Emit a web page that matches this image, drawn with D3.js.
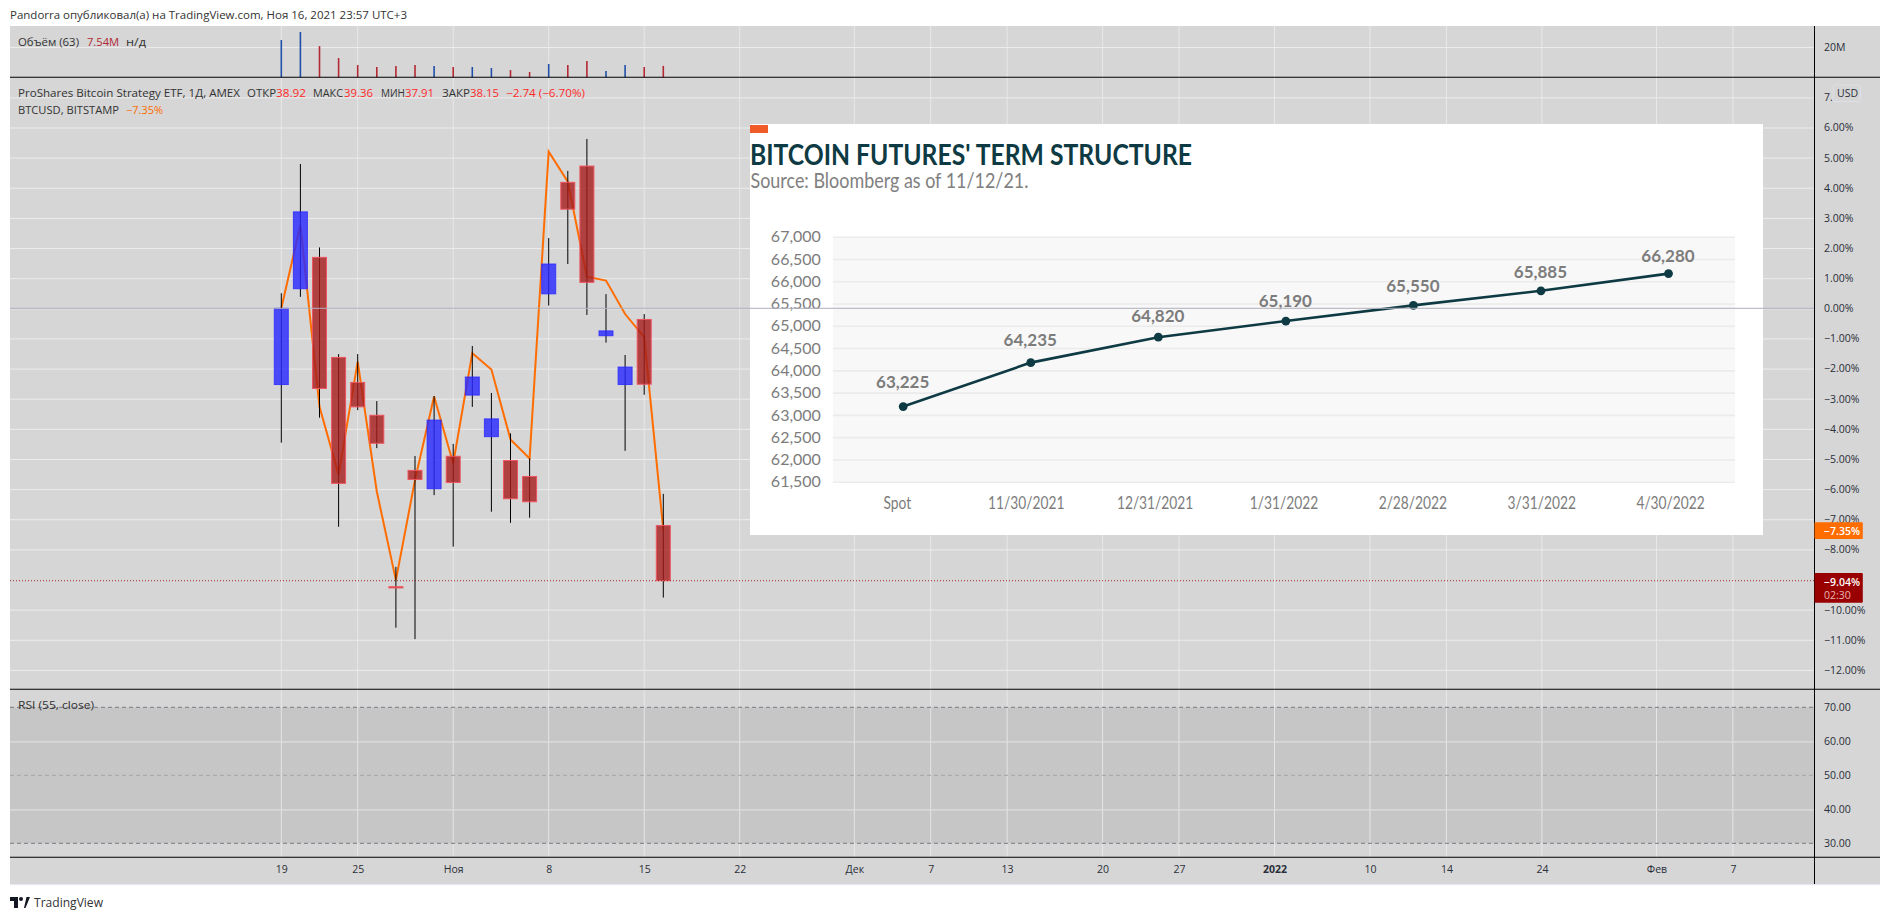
<!DOCTYPE html>
<html>
<head>
<meta charset="utf-8">
<script src="https://cdn.jsdelivr.net/npm/d3@7/dist/d3.min.js"></script>
<style>
html,body{margin:0;padding:0;background:#fff;overflow:hidden}
svg{display:block}
text{font-family:"Open Sans","Noto Sans",sans-serif}
.ui text,text.ui{font-family:"Open Sans","Noto Sans",sans-serif;font-size:10.5px;fill:#2a2e39}
.inset text,text.inset{font-family:Lato,"Open Sans",sans-serif}
</style>
</head>
<body>
<svg id="c" width="1890" height="920"></svg>
<script>
// ---------- data ----------
// daily candles, percent change from the comparison base (index = trading day from 19 Oct)
const opens  = [-2.53,0.65,1.69,-1.63,-2.46,-3.55,-9.24,-5.38,-5.99,-4.91,-2.88,-4.26,-5.05,-5.58,0.48,4.18,4.72,-0.91,-2.53,-0.37,-7.21];
const closes = [0.0,3.2,-2.66,-5.81,-3.27,-4.48,-9.28,-5.68,-3.71,-5.78,-2.28,-3.67,-6.32,-6.42,1.47,3.29,0.86,-0.75,-1.95,-2.52,-9.04];
const highs  = [0.5,4.79,2.02,-1.52,-1.52,-3.08,-8.58,-4.9,-2.91,-4.5,-1.25,-2.81,-4.15,-4.98,2.33,4.56,5.62,0.47,-1.55,-0.19,-6.16];
const lows   = [-4.46,0.38,-3.63,-7.25,-3.38,-4.64,-10.6,-10.98,-6.2,-7.91,-3.27,-6.75,-7.12,-6.95,0.09,1.47,-0.22,-1.14,-4.73,-2.87,-9.6];
const btcusd = [0.0,2.76,-3.27,-5.52,-1.77,-6.08,-9.02,-5.7,-2.93,-5.15,-1.49,-2.03,-4.35,-4.98,5.2,4.2,1.05,0.92,-0.19,-0.96,-7.35];
const volumes = [24.6,29.9,20.6,12.7,8.1,6.8,7.5,8.1,7.5,6.8,6.8,6.1,4.8,3.5,8.8,8.1,10.7,4.2,8.1,6.8,7.54];
const volumeUp = [1,1,0,0,0,0,0,0,1,0,1,1,0,0,1,0,0,1,1,0,0];

const timeTickIndex  = [0,4,9,14,19,24,30,34,38,43,47,52,57,61,66,72,76];
const timeTickLabels = ["19","25","Ноя","8","15","22","Дек","7","13","20","27","2022","10","14","24","Фев","7"];
const priceTicks = [7,6,5,4,3,2,1,0,-1,-2,-3,-4,-5,-6,-7,-8,-9,-10,-11,-12];
const volumeTicks = [20];
const rsiTicks = [70,60,50,40,30];
const rsiDashed = [70,50,30];

const termCategories = ["Spot","11/30/2021","12/31/2021","1/31/2022","2/28/2022","3/31/2022","4/30/2022"];
const termValues = [63225,64235,64820,65190,65550,65885,66280];
const termTicks = [67000,66500,66000,65500,65000,64500,64000,63500,63000,62500,62000,61500];

const legendOHLC = [["ОТКР","38.92"],["МАКС","39.36"],["МИН","37.91"],["ЗАКР","38.15"]];

// ---------- scales ----------
const svg = d3.select("#c");
const x = d3.scaleLinear().domain([0,20]).range([281.3,663.3]);
const yP = d3.scaleLinear().domain([0,-12]).range([308.3,669.9]);
const yV = d3.scaleLinear().domain([0,20]).range([77.3,47]);
const yR = d3.scaleLinear().domain([70,30]).range([707.3,843.3]);
const L=10,R=1880,T=26,B=884,AX=1814.5;
const GRID="#ececec";

// background
svg.append("rect").attr("x",L).attr("y",T).attr("width",R-L).attr("height",B-T).attr("fill","#d6d6d6");
svg.append("rect").attr("x",L).attr("y",B).attr("width",R-L).attr("height",1.2).attr("fill","#e6e8f0");
svg.append("rect").attr("x",L).attr("y",yR(70)).attr("width",AX-L).attr("height",yR(30)-yR(70)).attr("fill","rgba(0,0,0,0.075)");

// vertical grid + time labels
const gx = svg.append("g").attr("transform",`translate(0,${857.3})`)
  .call(d3.axisBottom(x).tickValues(timeTickIndex).tickFormat((d,i)=>timeTickLabels[i]).tickSize(0).tickPadding(7));
gx.select(".domain").remove();
gx.selectAll("text").attr("class","ui").attr("font-weight",d=>d===52?"700":"400").attr("dy","0.8em").style("font-size","10.5px");
const vg = svg.append("g");
vg.selectAll("line").data(timeTickIndex).join("line")
  .attr("x1",d=>x(d)).attr("x2",d=>x(d)).attr("y1",T).attr("y2",857.3)
  .attr("stroke",GRID).attr("stroke-width",1).attr("opacity",.85);

// price pane grid and axis
function hAxis(scale,ticks,fmt){
  const g = svg.append("g").attr("transform",`translate(${AX},0)`)
    .call(d3.axisRight(scale).tickValues(ticks).tickFormat(fmt).tickSize(0).tickPadding(9.5));
  g.select(".domain").remove();
  g.selectAll("text").attr("class","ui");
  g.selectAll(".tick").append("line").attr("x1",L-AX).attr("x2",0).attr("stroke",GRID).attr("stroke-width",1);
  return g;
}
// the 7% label is cut by the USD tag and the -9% one hidden by the price tag in the reference
hAxis(yP,priceTicks.filter(d=>d!==-9),d=>d===7?"7.":d3.format(".2f")(d)+"%");
hAxis(yV,volumeTicks,d=>d+"M");
const gr = hAxis(yR,rsiTicks,d=>d3.format(".2f")(d));
gr.selectAll(".tick line").attr("stroke",d=>rsiDashed.includes(d)?"none":"#dedede").attr("stroke-width",1.2);
svg.append("g").selectAll("line").data(rsiDashed).join("line")
  .attr("x1",L).attr("x2",AX).attr("y1",d=>yR(d)).attr("y2",d=>yR(d))
  .attr("stroke",d=>d===50?"#a4a4a8":"#787b86").attr("stroke-width",1).attr("stroke-dasharray","4 3");

// volume
svg.append("g").selectAll("line").data(volumes).join("line")
  .attr("x1",(d,i)=>x(i)).attr("x2",(d,i)=>x(i)).attr("y1",yV(0)).attr("y2",d=>yV(d))
  .attr("stroke",(d,i)=>volumeUp[i]?"#1f4fa8":"#b22833").attr("stroke-width",1.6);

// BTCUSD line, below candles
const line = d3.line().x((d,i)=>x(i)).y(d=>yP(d));
svg.append("path").datum(btcusd).attr("d",line).attr("fill","none").attr("stroke","#ff6d00").attr("stroke-width",2).attr("stroke-linejoin","miter");

// candles
const idx = d3.range(opens.length);
svg.append("g").selectAll("line").data(idx).join("line")
  .attr("x1",i=>x(i)).attr("x2",i=>x(i)).attr("y1",i=>yP(highs[i])).attr("y2",i=>yP(lows[i]))
  .attr("stroke","#000").attr("stroke-width",1);
const BW=14;
svg.append("g").selectAll("rect").data(idx).join("rect")
  .attr("x",i=>x(i)-BW/2).attr("width",BW)
  .attr("y",i=>yP(Math.max(opens[i],closes[i])))
  .attr("height",i=>Math.abs(yP(opens[i])-yP(closes[i])))
  .attr("fill",i=>closes[i]>opens[i]?"rgba(42,42,255,.82)":"rgba(165,28,28,.8)")
  .attr("stroke",i=>closes[i]>opens[i]?"rgba(42,42,255,.82)":"#ee5560").attr("stroke-width",1);

// last price dotted
svg.append("line").attr("x1",L).attr("x2",AX).attr("y1",yP(closes[20])).attr("y2",yP(closes[20]))
  .attr("stroke","#990000").attr("stroke-width",1).attr("stroke-dasharray","1 2").attr("opacity",.8);

// ---------- inset ----------
const ins = svg.append("g").attr("class","inset");
ins.append("rect").attr("x",750).attr("y",124).attr("width",1013).attr("height",411).attr("fill","#fff");
ins.append("rect").attr("x",750).attr("y",125).attr("width",18).attr("height",8).attr("fill","#f15a29");
function squeeze(sel,k){ sel.each(function(){ const w=this.getComputedTextLength(); d3.select(this).attr("textLength",w*k).attr("lengthAdjust","spacingAndGlyphs"); }); }
const ttl = ins.append("text").attr("x",750).attr("y",165).attr("font-size",29).attr("font-weight",700).attr("fill","#0e3a43")
  .text("BITCOIN FUTURES' TERM STRUCTURE");
ttl.attr("textLength",442).attr("lengthAdjust","spacingAndGlyphs");
ins.append("text").attr("x",750.5).attr("y",187.5).attr("font-size",21).attr("fill","#808080")
  .attr("textLength",278).attr("lengthAdjust","spacingAndGlyphs").text("Source: Bloomberg as of 11/12/21.");

const PX0=832.9,PX1=1735;
const yT = d3.scaleLinear().domain([67000,61500]).range([236.7,481.7]);
// the published series sits a little lower than its labels against the gridlines
const termExtent = [d3.min(termValues),d3.max(termValues)];
const yS = d3.scaleLinear().domain(termExtent).range([406.6,273.6]);
// the value labels follow a slightly flatter slope than the line they annotate
const yL = d3.scaleLinear().domain(termExtent).range([382.5,256]);
const xBand = d3.scaleBand().domain(termCategories).range([PX0,PX1]);
const xPoint = d3.scalePoint().domain(termCategories).range([903.2,1668.5]);
ins.append("rect").attr("x",PX0).attr("y",yT(67000)).attr("width",PX1-PX0).attr("height",yT(61500)-yT(67000)).attr("fill","#f8f8f8");
const gyT = ins.append("g").attr("transform",`translate(${PX0},0)`)
  .call(d3.axisLeft(yT).tickValues(termTicks).tickFormat(d3.format(",")).tickSize(0).tickPadding(12));
gyT.select(".domain").remove();
gyT.selectAll("text").attr("font-size",16).attr("fill","#7c7c7c").style("font-family","Lato");
gyT.selectAll(".tick").append("line").attr("x1",0).attr("x2",PX1-PX0).attr("stroke","#ebebeb").attr("stroke-width",1.6);
const gxT = ins.append("g").attr("transform",`translate(0,${481.7})`)
  .call(d3.axisBottom(xBand).tickSize(0).tickPadding(15));
gxT.select(".domain").remove();
gxT.selectAll("text").attr("font-size",17).attr("fill","#7c7c7c").style("font-family","Lato").call(squeeze,0.81);

const tLine = d3.line().x((d,i)=>xPoint(termCategories[i])).y(d=>yS(d));
ins.append("path").datum(termValues).attr("d",tLine).attr("fill","none").attr("stroke","#0e3a43").attr("stroke-width",2.6);
ins.append("g").selectAll("circle").data(termValues).join("circle")
  .attr("cx",(d,i)=>xPoint(termCategories[i])).attr("cy",d=>yS(d)).attr("r",4.4).attr("fill","#0e3a43");
ins.append("g").selectAll("text").data(termValues).join("text")
  .attr("x",(d,i)=>xPoint(termCategories[i])-0.5).attr("y",d=>yL(d)).attr("dy","0.34em")
  .attr("text-anchor","middle").attr("font-size",17).attr("font-weight",700).attr("fill","#7c7c7c")
  .style("font-family","Lato").text(d3.format(","));

// zero line over everything
svg.append("line").attr("x1",L).attr("x2",AX).attr("y1",yP(0)).attr("y2",yP(0)).attr("stroke","#aeaebc").attr("stroke-width",1);

// pane separators and price axis border
[77.3,689.3,857.3].forEach(y=>svg.append("line").attr("x1",L).attr("x2",R).attr("y1",y).attr("y2",y).attr("stroke","#000").attr("stroke-width",1.1));
svg.append("line").attr("x1",AX).attr("x2",AX).attr("y1",T).attr("y2",B).attr("stroke","#000").attr("stroke-width",1);

// ---------- price badges ----------
svg.append("rect").attr("x",AX).attr("y",522.3).attr("width",48.3).attr("height",16.6).attr("fill","#ff6d00").attr("rx",1);
svg.append("text").attr("class","ui").attr("x",1824).attr("y",534.5).style("fill","#fff").attr("font-weight",600).text("−7.35%");
svg.append("rect").attr("x",AX).attr("y",573).attr("width",48.3).attr("height",29.7).attr("fill","#990000").attr("rx",1);
svg.append("text").attr("class","ui").attr("x",1824).attr("y",586).style("fill","#fff").attr("font-weight",600).text("−9.04%");
svg.append("text").attr("class","ui").attr("x",1824).attr("y",599).style("fill","#e8b4b4").text("02:30");
svg.append("rect").attr("x",1833).attr("y",85).attr("width",27.5).attr("height",16.5).attr("rx",2).attr("fill","#d6d6d6").attr("stroke","#dfdfe6");
svg.append("text").attr("class","ui").attr("x",1837).attr("y",97).text("USD");

// ---------- legends ----------
function t(x0,y,s,col,w){
  const n = svg.append("text").attr("class","ui").attr("x",x0).attr("y",y).text(s);
  if(col) n.style("fill",col);
  if(w) n.attr("textLength",w).attr("lengthAdjust","spacingAndGlyphs");
  return n;
}
t(10,19,"Pandorra опубликовал(а) на TradingView.com, Ноя 16, 2021 23:57 UTC+3","#333",397);
t(18,46,"Объём (63)","#333",61);
t(87,46,"7.54M","#b22833",32);
t(126,46,"н/д","#333",20);
t(18,96.5,"ProShares Bitcoin Strategy ETF, 1Д, AMEX","#333",222);
const ohlcX=[[247,29,276,30],[313,30,344,29],[381,24,405,29],[442,28,470,29]];
legendOHLC.forEach((p,i)=>{ const q=ohlcX[i]; t(q[0],96.5,p[0],"#333",q[1]); t(q[2],96.5,p[1],"#ff2a2a",q[3]); });
t(506,96.5,"−2.74 (−6.70%)","#ff2a2a",79);
t(18,113.5,"BTCUSD, BITSTAMP","#333",101);
t(126,113.5,"−7.35%","#ff6d00",37);
t(18,709,"RSI (55, close)","#333",76);

// TradingView mark
svg.append("path").attr("d","M10 897h8v11h-4v-7h-4zM24 908l2.5-11h3.5l-4.5 11z").attr("fill","#131722");
svg.append("circle").attr("cx",21).attr("cy",899).attr("r",2).attr("fill","#131722");
t(34,907,"TradingView","#333",69).style("font-size","12px");
</script>
</body>
</html>
